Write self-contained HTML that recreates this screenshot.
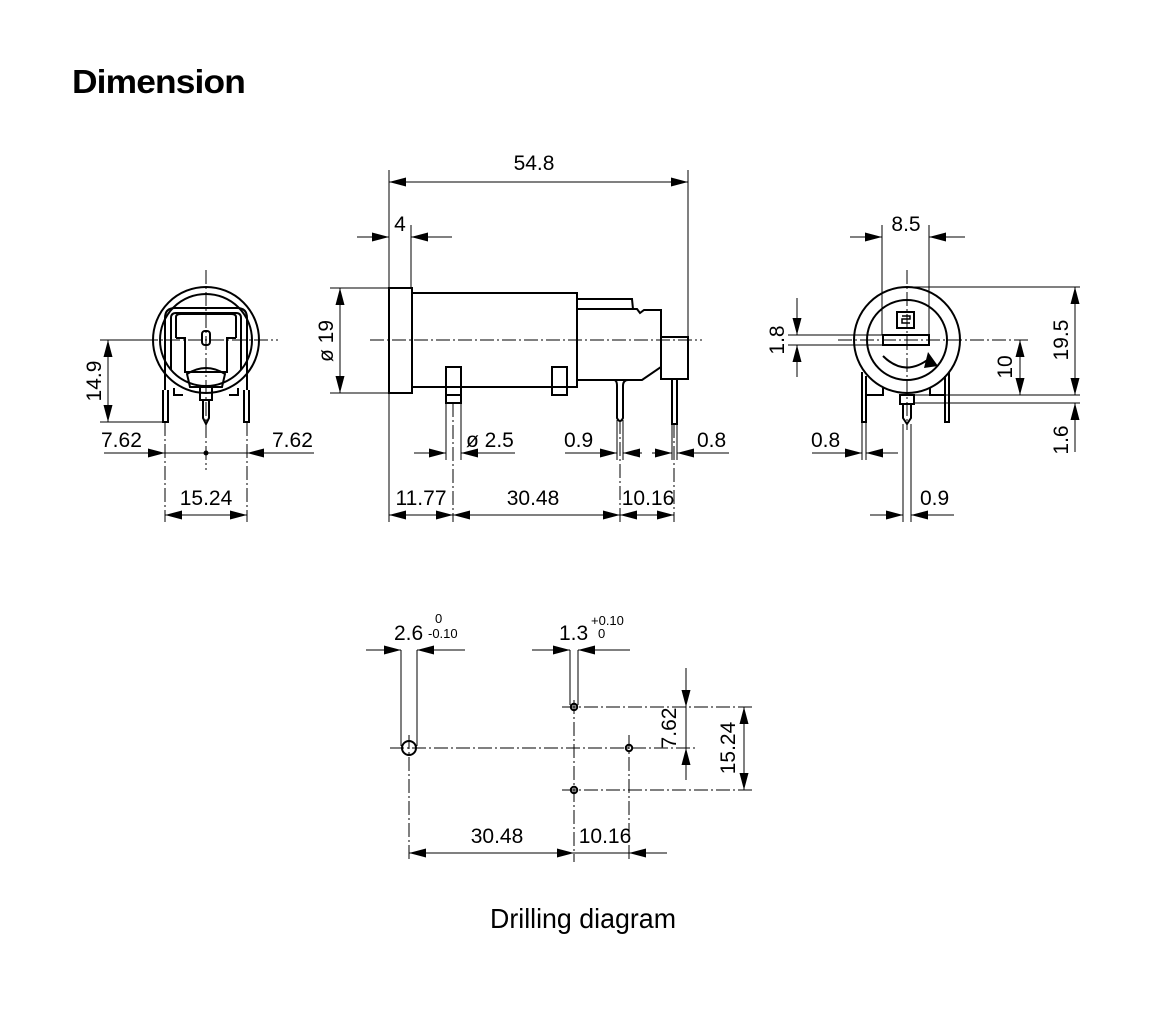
<!DOCTYPE html>
<html><head><meta charset="utf-8"><style>
html,body{margin:0;padding:0;background:#fff;}
svg{display:block;}
text{font-family:"Liberation Sans",sans-serif;fill:#000;}
</style></head><body>
<svg width="1158" height="1022" viewBox="0 0 1158 1022" xmlns="http://www.w3.org/2000/svg">
<defs>
<marker id="a" markerUnits="userSpaceOnUse" markerWidth="20" markerHeight="12" refX="17" refY="5.5" orient="auto-start-reverse"><path d="M0,1 L17,5.5 L0,10 Z" fill="#000"/></marker>
</defs>
<text x="72" y="93" font-size="33" font-weight="bold" letter-spacing="-0.8" textLength="173" lengthAdjust="spacingAndGlyphs">Dimension</text>

<g stroke="#000" fill="none" stroke-width="1">
<!-- ===== LEFT VIEW ===== -->
<line x1="206" y1="270" x2="206" y2="470" stroke-dasharray="14,3,2,3"/>
<line x1="100" y1="340" x2="278" y2="340" stroke-dasharray="14,3,2,3"/>
<g stroke-width="2">
<circle cx="206" cy="340" r="53"/>
<circle cx="206" cy="340" r="46"/>
<path d="M165,390 L165,318 Q165,308 175,308 L237,308 Q247,308 247,318 L247,390"/>
<path d="M171,370 L171,318 Q171,313 176,313 L236,313 Q241,313 241,318 L241,370"/>
<path d="M176,338 L176,317 Q176,314 181,314 L231,314 Q236,314 236,317 L236,338"/>
<path d="M176,338 L185,338 L185,372 L227,372 L227,338 L236,338"/>
<rect x="202" y="331" width="8" height="14" rx="3"/>
<path d="M187,374 Q206,362 225,374 L222,387 L190,387 Z"/>
<path d="M163,390 L163,422 L168,422 L168,390"/>
<path d="M244,390 L244,422 L249,422 L249,390"/>
<path d="M174,388 L174,395 L183,395"/>
<path d="M238,388 L238,395 L229,395"/>
<path d="M200,387 L200,400 L212,400 L212,387"/>
<path d="M203,400 L203,418 L206,424 L209,418 L209,400"/>
</g>
<line x1="100" y1="340" x2="150" y2="340"/>
<line x1="100" y1="422" x2="163" y2="422"/>
<line x1="108" y1="340" x2="108" y2="422" marker-start="url(#a)" marker-end="url(#a)"/>
<line x1="165" y1="422" x2="165" y2="522" stroke-dasharray="14,3,2,3"/>
<line x1="247" y1="422" x2="247" y2="522" stroke-dasharray="14,3,2,3"/>
<line x1="104" y1="453" x2="165" y2="453" marker-end="url(#a)"/>
<line x1="165" y1="453" x2="247" y2="453"/>
<circle cx="206" cy="453" r="2" fill="#000"/>
<line x1="314" y1="453" x2="247" y2="453" marker-end="url(#a)"/>
<line x1="165" y1="515" x2="247" y2="515" marker-start="url(#a)" marker-end="url(#a)"/>

<!-- ===== MIDDLE VIEW ===== -->
<line x1="370" y1="340" x2="702" y2="340" stroke-dasharray="14,3,2,3"/>
<g stroke-width="2">
<rect x="389" y="288" width="23" height="105"/>
<rect x="412" y="293" width="165" height="94"/>
<path d="M577,299 L632,299 L633,309"/>
<path d="M577,309 L637,309 L640,313 L644,310 L661,310 L661,367 L642,380 L577,380 Z"/>
<rect x="661" y="337" width="27" height="42"/>
<path d="M614,380 Q617,380 617,386 L617,418 Q620,424 623,418 L623,386 Q623,380 628,380"/>
<rect x="672" y="379" width="5" height="45"/>
<rect x="446" y="367" width="15" height="36"/>
<line x1="446" y1="395" x2="461" y2="395"/>
<rect x="552" y="367" width="15" height="28"/>
</g>
<line x1="389" y1="170" x2="389" y2="522"/>
<line x1="688" y1="170" x2="688" y2="337"/>
<line x1="389" y1="182" x2="688" y2="182" marker-start="url(#a)" marker-end="url(#a)"/>
<line x1="411" y1="225" x2="411" y2="288"/>
<line x1="357" y1="237" x2="389" y2="237" marker-end="url(#a)"/>
<line x1="452" y1="237" x2="411" y2="237" marker-end="url(#a)"/>
<line x1="330" y1="288" x2="389" y2="288"/>
<line x1="330" y1="393" x2="389" y2="393"/>
<line x1="340" y1="288" x2="340" y2="393" marker-start="url(#a)" marker-end="url(#a)"/>
<line x1="446" y1="403" x2="446" y2="460"/>
<line x1="461" y1="403" x2="461" y2="460"/>
<line x1="453" y1="403" x2="453" y2="522" stroke-dasharray="14,3,2,3"/>
<line x1="414" y1="453" x2="446" y2="453" marker-end="url(#a)"/>
<line x1="515" y1="453" x2="461" y2="453" marker-end="url(#a)"/>
<line x1="617" y1="420" x2="617" y2="460"/>
<line x1="623" y1="420" x2="623" y2="460"/>
<line x1="620" y1="420" x2="620" y2="522" stroke-dasharray="14,3,2,3"/>
<line x1="565" y1="453" x2="617" y2="453" marker-end="url(#a)"/>
<line x1="642" y1="453" x2="623" y2="453" marker-end="url(#a)"/>
<line x1="672" y1="424" x2="672" y2="460"/>
<line x1="677" y1="424" x2="677" y2="460"/>
<line x1="674" y1="424" x2="674" y2="522" stroke-dasharray="14,3,2,3"/>
<line x1="652" y1="453" x2="672" y2="453" marker-end="url(#a)"/>
<line x1="729" y1="453" x2="677" y2="453" marker-end="url(#a)"/>
<line x1="389" y1="515" x2="453" y2="515" marker-start="url(#a)" marker-end="url(#a)"/>
<line x1="453" y1="515" x2="620" y2="515" marker-start="url(#a)" marker-end="url(#a)"/>
<line x1="620" y1="515" x2="674" y2="515" marker-start="url(#a)" marker-end="url(#a)"/>

<!-- ===== RIGHT VIEW ===== -->
<line x1="907" y1="270" x2="907" y2="430" stroke-dasharray="14,3,2,3"/>
<line x1="838" y1="340" x2="1030" y2="340" stroke-dasharray="14,3,2,3"/>
<g stroke-width="2">
<circle cx="907" cy="340" r="53"/>
<circle cx="907" cy="340" r="40"/>
<rect x="883" y="335" width="46" height="10"/>
<rect x="897" y="312" width="17" height="16"/>
<path d="M902,316 L910,316 L910,319 L902,319 L902,323 L910,323" stroke-width="1.5"/>
<path d="M883,356 Q905,378 930,358"/>
<path d="M862,372 L862,422 L866,422 L866,376"/>
<path d="M945,376 L945,422 L949,422 L949,372"/>
<path d="M866,380 L866,395 L883,395 L883,388"/>
<path d="M945,380 L945,395 L930,395 L930,388"/>
<rect x="900" y="395" width="14" height="9"/>
<path d="M903,404 L903,418 L907,424 L911,418 L911,404"/>
</g>
<path d="M928,352 L938,366 L924,368 Z" fill="#000" stroke="none"/>
<line x1="882" y1="225" x2="882" y2="335"/>
<line x1="929" y1="225" x2="929" y2="335"/>
<line x1="850" y1="237" x2="882" y2="237" marker-end="url(#a)"/>
<line x1="965" y1="237" x2="929" y2="237" marker-end="url(#a)"/>
<line x1="788" y1="335" x2="883" y2="335"/>
<line x1="788" y1="345" x2="883" y2="345"/>
<line x1="797" y1="298" x2="797" y2="335" marker-end="url(#a)"/>
<line x1="797" y1="377" x2="797" y2="345" marker-end="url(#a)"/>
<line x1="907" y1="287" x2="1080" y2="287"/>
<line x1="910" y1="395" x2="1080" y2="395"/>
<line x1="914" y1="403" x2="1080" y2="403"/>
<line x1="1075" y1="287" x2="1075" y2="395" marker-start="url(#a)" marker-end="url(#a)"/>
<line x1="1075" y1="452" x2="1075" y2="403" marker-end="url(#a)"/>
<line x1="1020" y1="340" x2="1020" y2="395" marker-start="url(#a)" marker-end="url(#a)"/>
<line x1="862" y1="422" x2="862" y2="460"/>
<line x1="866" y1="422" x2="866" y2="460"/>
<line x1="812" y1="453" x2="862" y2="453" marker-end="url(#a)"/>
<line x1="898" y1="453" x2="866" y2="453" marker-end="url(#a)"/>
<line x1="903" y1="424" x2="903" y2="522"/>
<line x1="911" y1="424" x2="911" y2="522"/>
<line x1="870" y1="515" x2="903" y2="515" marker-end="url(#a)"/>
<line x1="954" y1="515" x2="911" y2="515" marker-end="url(#a)"/>

<!-- ===== DRILLING ===== -->
<line x1="390" y1="748" x2="695" y2="748" stroke-dasharray="14,3,2,3"/>
<line x1="562" y1="707" x2="752" y2="707" stroke-dasharray="14,3,2,3"/>
<line x1="562" y1="790" x2="752" y2="790" stroke-dasharray="14,3,2,3"/>
<line x1="409" y1="735" x2="409" y2="862" stroke-dasharray="14,3,2,3"/>
<line x1="574" y1="700" x2="574" y2="862" stroke-dasharray="14,3,2,3"/>
<line x1="629" y1="735" x2="629" y2="862" stroke-dasharray="14,3,2,3"/>
<g stroke-width="2">
<circle cx="409" cy="748" r="7"/>
<circle cx="574" cy="707" r="3.2"/>
<circle cx="629" cy="748" r="3.2"/>
<circle cx="574" cy="790" r="3.2"/>
</g>
<line x1="401" y1="650" x2="401" y2="746"/>
<line x1="417" y1="650" x2="417" y2="746"/>
<line x1="366" y1="650" x2="401" y2="650" marker-end="url(#a)"/>
<line x1="465" y1="650" x2="417" y2="650" marker-end="url(#a)"/>
<line x1="570" y1="650" x2="570" y2="705"/>
<line x1="578" y1="650" x2="578" y2="705"/>
<line x1="532" y1="650" x2="570" y2="650" marker-end="url(#a)"/>
<line x1="630" y1="650" x2="578" y2="650" marker-end="url(#a)"/>
<line x1="686" y1="668" x2="686" y2="707" marker-end="url(#a)"/>
<line x1="686" y1="780" x2="686" y2="748" marker-end="url(#a)"/>
<line x1="686" y1="707" x2="686" y2="748"/>
<line x1="744" y1="707" x2="744" y2="790" marker-start="url(#a)" marker-end="url(#a)"/>
<line x1="409" y1="853" x2="574" y2="853" marker-start="url(#a)" marker-end="url(#a)"/>
<line x1="574" y1="853" x2="629" y2="853"/>
<line x1="667" y1="853" x2="629" y2="853" marker-end="url(#a)"/>
</g>

<g font-size="21">
<text x="534" y="170" text-anchor="middle">54.8</text>
<text x="400" y="231" text-anchor="middle">4</text>
<text transform="translate(333,341) rotate(-90)" text-anchor="middle">ø 19</text>
<text x="466" y="447">ø 2.5</text>
<text x="564" y="447">0.9</text>
<text x="697" y="447">0.8</text>
<text x="421" y="505" text-anchor="middle">11.77</text>
<text x="533" y="505" text-anchor="middle">30.48</text>
<text x="648" y="505" text-anchor="middle">10.16</text>
<text transform="translate(101,381) rotate(-90)" text-anchor="middle">14.9</text>
<text x="101" y="447">7.62</text>
<text x="272" y="447">7.62</text>
<text x="206" y="505" text-anchor="middle">15.24</text>
<text x="906" y="231" text-anchor="middle">8.5</text>
<text transform="translate(784,340) rotate(-90)" text-anchor="middle">1.8</text>
<text transform="translate(1068,340) rotate(-90)" text-anchor="middle">19.5</text>
<text transform="translate(1012,367) rotate(-90)" text-anchor="middle">10</text>
<text transform="translate(1068,440) rotate(-90)" text-anchor="middle">1.6</text>
<text x="811" y="447">0.8</text>
<text x="920" y="505">0.9</text>
<text x="394" y="640">2.6</text>
<text x="559" y="640">1.3</text>
<text transform="translate(676,728) rotate(-90)" text-anchor="middle">7.62</text>
<text transform="translate(735,748) rotate(-90)" text-anchor="middle">15.24</text>
<text x="497" y="843" text-anchor="middle">30.48</text>
<text x="605" y="843" text-anchor="middle">10.16</text>
</g>
<g font-size="13">
<text x="435" y="623">0</text>
<text x="428" y="638">-0.10</text>
<text x="591" y="625">+0.10</text>
<text x="598" y="638">0</text>
</g>
<text x="583" y="928" font-size="28" text-anchor="middle" textLength="186" lengthAdjust="spacingAndGlyphs" style="font-family:'Liberation Sans Narrow','Liberation Sans',sans-serif">Drilling diagram</text>
</svg>
</body></html>
